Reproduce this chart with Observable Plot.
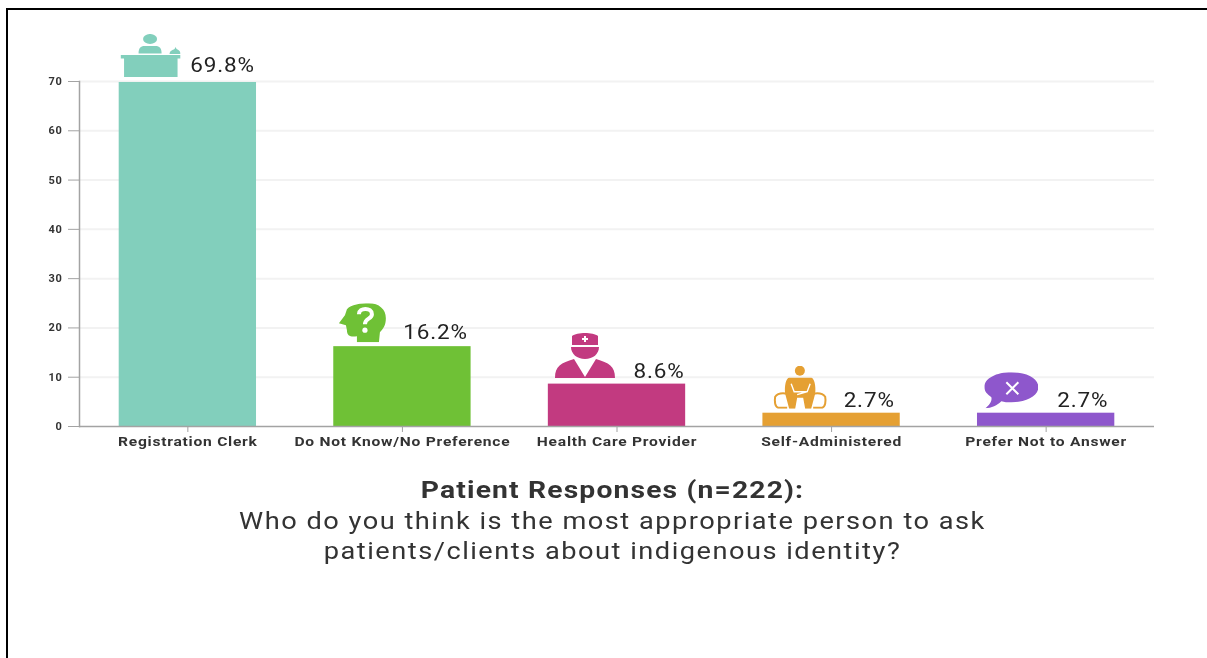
<!DOCTYPE html>
<html>
<head>
<meta charset="utf-8">
<script src="https://cdn.jsdelivr.net/npm/d3@7"></script>
<script src="https://cdn.jsdelivr.net/npm/@observablehq/plot@0.6"></script>
<style>
html,body{margin:0;padding:0;background:#fff;overflow:hidden}
#page{position:relative;width:1207px;height:658px;overflow:hidden}
#frame{position:absolute;left:6px;top:8px;right:-5px;bottom:-5px;border-left:2.5px solid #000;border-top:2.5px solid #000}
#chart{position:absolute;left:0;top:0;filter:blur(.45px)}
#caption{position:absolute;left:0;width:1225px;top:475px;text-align:center;font-family:Roboto,sans-serif;font-size:24.5px;line-height:30.5px;color:#333;letter-spacing:1.35px;filter:blur(.45px)}
#caption div{transform:scaleX(1.11);transform-origin:center}
#caption div.t{font-weight:700;letter-spacing:1px;transform:scaleX(1.154)}
g[aria-label="y-axis tick label"] text{letter-spacing:.7px}
g[aria-label="x-axis tick label"] text{letter-spacing:.62px}
g[aria-label="text"] text{letter-spacing:.8px}
</style>
</head>
<body>
<div id="page">
  <div id="frame"></div>
  <div id="chart"></div>
  <div id="caption"><div class="t">Patient Responses (n=222):</div><div>Who do you think is the most appropriate person to ask</div><div>patients/clients about indigenous identity?</div></div>
</div>
<script>
const categories = ["Registration Clerk","Do Not Know/No Preference","Health Care Provider","Self-Administered","Prefer Not to Answer"];
const values = [69.8,16.2,8.6,2.7,2.7];
const labels = ["69.8%","16.2%","8.6%","2.7%","2.7%"];
const colors = ["#82cfbc","#6fc136","#c23a80","#e5a033","#8e57cc"];
const yTicks = [0,10,20,30,40,50,60,70];

// label and icon placement relative to each bar (styling, not data)
const labelDx = [34.7,33,42,37.6,36.7];
const labelDy = [-17,-14,-13,-13,-13];
const iconW = [60,47,60,54,54];
const iconH = [43,39,46,43,36];
const iconDx = [-37.3,-40,-32,-31.4,-34.8];
const iconDy = [-27,-24,-29,-26,-23];

const svg = (w,h,body)=>"data:image/svg+xml;charset=utf-8,"+encodeURIComponent(
  `<svg xmlns="http://www.w3.org/2000/svg" width="${w*3}" height="${h*3}" viewBox="0 0 ${w} ${h}">${body}</svg>`);

const iconBodies = [
  // desk clerk
  `<g fill="${colors[0]}"><ellipse cx="29.5" cy="5" rx="7" ry="5"/>
   <path d="M18 19.5 C18 14 20 12 24 12 H35 C39 12 41 14 41 19.5Z"/>
   <path d="M49 20 C49 17 52 16 54 15 L55 13 L56 15 C58 16 60 17 60 20Z"/>
   <path d="M0 21 H60 V24.5 H57 V43 H3.5 V24.5 H0Z"/></g>`,
  // head with question mark
  `<path fill="${colors[1]}" d="M8 6 C12 1 22 0 30 0 C40 0 47 6 47 15 C47 22 44 26 41 29 L40 39 L18 39 L18 33 C12 34 8 33 8 27 L7 22 L0 20 L6 12Z"/>
   <path fill="none" stroke="#fff" stroke-width="4" d="M20 11 C20 4 33 4 33 11 C33 16 26 15 26 21"/>
   <circle cx="26" cy="27" r="2.6" fill="#fff"/>`,
  // nurse
  `<g fill="${colors[2]}"><path d="M17 4 C22 0 38 0 43 4 V13 H17Z"/>
   <path d="M16 15 H44 C44 22 38 27 30 27 C22 27 16 22 16 15Z"/>
   <path d="M0 46 C0 34 6 31 19 27 L30 45 L41 27 C54 31 60 34 60 46Z"/></g>
   <path stroke="#fff" stroke-width="2" d="M30 4 V10 M27 7 H33"/>`,
  // person reading
  `<g fill="${colors[3]}"><circle cx="26.7" cy="5" r="5"/>
   <path d="M16 12 H38 C41 12 43 20 42 28 L38 43 H32 L30 32 H24 L22 43 H16 L12 28 C11 20 13 12 16 12Z"/></g>
   <path fill="none" stroke="#fff" stroke-width="1.4" d="M18 18 L21 26 H34 M37 18 L34 26 L24 29"/>
   <path fill="none" stroke="${colors[3]}" stroke-width="2" d="M14 28 C8 27 4 28 2 31 C1 36 2 41 5 42 H14 M40 28 C46 27 50 28 52 31 C53 36 52 41 49 42 H40"/>`,
  // speech bubble with cross
  `<path fill="${colors[4]}" d="M27 0 C42 0 54 6 54 15 C54 24 42 30 27 30 C23 30 20 30 17 29 C13 33 7 36 1 36 C5 33 8 29 7 25 C3 22 0 19 0 15 C0 6 12 0 27 0Z"/>
   <path stroke="#fff" stroke-width="2" d="M22 10 L34 22 M34 10 L22 22"/>`
];
const icons = iconBodies.map((b,i)=>svg(iconW[i],iconH[i],b));

const rows = categories.map((c,i)=>({category:c,value:values[i],label:labels[i],icon:icons[i],i}));

const chart = Plot.plot({
  width:1207, height:470,
  marginLeft:79, marginRight:53, marginTop:81, marginBottom:44,
  style:{background:"transparent",overflow:"visible"},
  x:{domain:categories,paddingInner:0.36,paddingOuter:0.185,align:0.5,round:false,label:null},
  y:{domain:[0,70],label:null},
  color:{domain:categories,range:colors},
  marks:[
    Plot.ruleY(yTicks.filter(d=>d>0),{stroke:"#f2f2f2",strokeWidth:2}),
    Plot.barY(rows,{x:"category",y:"value",fill:"category"}),
    Plot.frame({anchor:"left",stroke:"#a3a3a3",strokeWidth:1.5}),
    Plot.ruleY([0],{stroke:"#a3a3a3",strokeWidth:1.5}),
    Plot.axisY({ticks:yTicks,tickSize:11,tickPadding:6,stroke:"#a3a3a3",tickFormat:d=>String(d),
      fontSize:11,fontWeight:700,fontFamily:"Roboto,sans-serif",fill:"#333",label:null}),
    Plot.axisX({tickSize:6,tickPadding:4,stroke:"#a3a3a3",
      fontSize:13,fontWeight:700,fontFamily:"Roboto,sans-serif",fill:"#333",label:null}),
    ...rows.map(r=>Plot.text([r],{x:"category",y:"value",text:"label",dx:labelDx[r.i],dy:labelDy[r.i],
      fontSize:21,fontFamily:"Roboto,sans-serif",fill:"#222"})),
    ...rows.map(r=>Plot.image([r],{x:"category",y:"value",src:"icon",width:iconW[r.i],height:iconH[r.i],dx:iconDx[r.i],dy:iconDy[r.i]}))
  ]
});
document.getElementById("chart").appendChild(chart);

// the reference is stretched horizontally: widen the real text to match
function stretch(sel,f){
  chart.querySelectorAll(sel).forEach(t=>{
    t.setAttribute("textLength",t.getComputedTextLength()*f);
    t.setAttribute("lengthAdjust","spacingAndGlyphs");
  });
}
stretch('g[aria-label="x-axis tick label"] text',1.2);
stretch('g[aria-label="text"] text',1.07);
</script>
</body>
</html>
